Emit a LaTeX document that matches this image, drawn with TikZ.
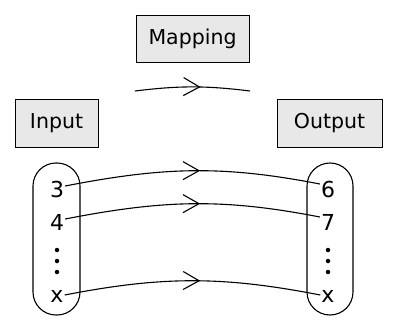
\documentclass[tikz,border=0pt]{standalone}
\usepackage{fontspec}
\setmainfont{DejaVu Sans}
\usetikzlibrary{arrows.meta,decorations.markings}
\begin{document}
\begin{tikzpicture}[x=1pt,y=1pt,
  lbl/.style={draw=black,line width=1pt,fill=black!9,minimum height=47pt,font=\fontsize{20.5}{22}\selectfont},
  oval/.style={draw=black,line width=1.1pt,rounded corners=23pt,minimum width=47pt,minimum height=152pt},
  num/.style={inner sep=1pt,font=\fontsize{22}{24}\selectfont},
  maparrow/.style={line width=1.1pt,postaction={decorate},
    decoration={markings,mark=at position #1 with {\arrow{Straight Barb[length=16pt,width=18pt,line width=1.1pt]}}}},
  dotm/.style={fill=black,circle,inner sep=0pt,minimum size=4.5pt}
]
\useasboundingbox (0,0) rectangle (399,322);
% label boxes
\node[lbl,minimum width=113pt] (map) at (192.5,283) {Mapping};
\node[lbl,minimum width=83pt] (in) at (56.5,198.5) {Input};
\node[lbl,minimum width=105pt] (out) at (329.5,198.5) {Output};
% mapping arrow
\coordinate (ms) at (135,231);
\coordinate (me) at (250,231);
\draw[maparrow=0.57] (ms) to[out=7,in=173] (me);
% ovals
\node[oval] (lo) at (56.5,83) {};
\node[oval,minimum width=46pt] (ro) at (330,83) {};
% numbers
\node[num] (a3) at (57,133) {3};
\node[num] (a4) at (57,100) {4};
\node[num] (ax) at (57,26) {x};
\node[num] (b6) at (328,133) {6};
\node[num] (b7) at (328,100) {7};
\node[num] (bx) at (328,26) {x};
% dots
\foreach \y [count=\i] in {72,61,50}{
  \node[dotm] (ld\i) at (57,\y) {};
  \node[dotm] (rd\i) at (328,\y) {};
}
% arrows
\draw[maparrow=0.53] ([yshift=3pt]a3.east) to[out=11,in=169] ([yshift=5pt]b6.west);
\draw[maparrow=0.53] ([yshift=3pt]a4.east) to[out=11,in=169] ([yshift=5pt]b7.west);
\draw[maparrow=0.53] ([yshift=1pt]ax.east) to[out=11,in=169] ([yshift=1pt]bx.west);
\end{tikzpicture}
\end{document}
